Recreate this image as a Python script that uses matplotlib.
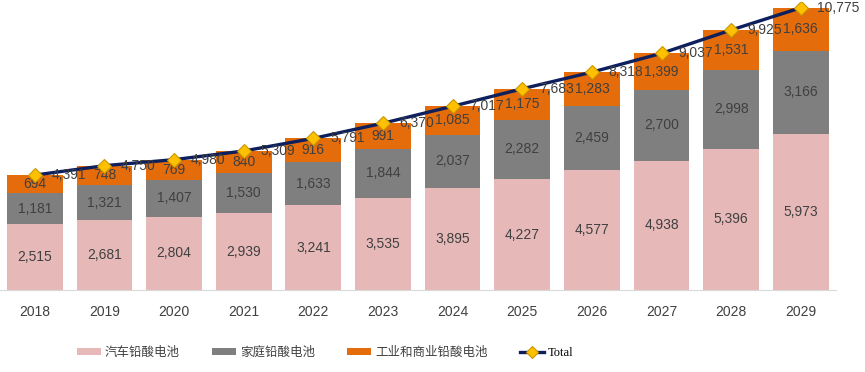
import matplotlib
matplotlib.use("Agg")
import matplotlib.pyplot as plt
import numpy as np

years = ["2018", "2019", "2020", "2021", "2022", "2023", "2024", "2025", "2026", "2027", "2028", "2029"]
auto = [2515, 2681, 2804, 2939, 3241, 3535, 3895, 4227, 4577, 4938, 5396, 5973]
home = [1181, 1321, 1407, 1530, 1633, 1844, 2037, 2282, 2459, 2700, 2998, 3166]
indus = [694, 748, 769, 840, 916, 991, 1085, 1175, 1283, 1399, 1531, 1636]
total = [4391, 4750, 4980, 5309, 5791, 6370, 7017, 7683, 8318, 9037, 9925, 10775]
names = ["汽车铅酸电池", "家庭铅酸电池", "工业和商业铅酸电池", "Total"]

plt.rcParams['font.family'] = ['Liberation Sans', 'Noto Sans CJK SC', 'DejaVu Sans']

fig = plt.figure(figsize=(8.65, 3.72), dpi=100)
ax = fig.add_axes([0.0, 0.22, 0.966, 0.775])

x = np.arange(len(years))
w = 0.8
c_auto, c_home, c_ind = "#E6B9B8", "#7F7F7F", "#E46C0A"
lab_c = "#404040"

b1 = ax.bar(x, auto, w, color=c_auto, label=names[0])
b2 = ax.bar(x, home, w, bottom=auto, color=c_home, label=names[1])
bot3 = np.array(auto) + np.array(home)
b3 = ax.bar(x, indus, w, bottom=bot3, color=c_ind, label=names[2])
ln, = ax.plot(x, total, color="#0D1F5C", lw=2.4, marker="D", ms=7.5,
              mfc="#FFC000", mec="#C89600", mew=0.8, label=names[3], zorder=5)

for i in range(len(years)):
    ax.text(x[i], auto[i] / 2, f"{auto[i]:,}", ha="center", va="center", fontsize=10, color=lab_c)
    ax.text(x[i], auto[i] + home[i] / 2, f"{home[i]:,}", ha="center", va="center", fontsize=10, color=lab_c)
    ax.text(x[i], bot3[i] + indus[i] / 2, f"{indus[i]:,}", ha="center", va="center", fontsize=10, color=lab_c)
    ax.annotate(f"{total[i]:,}", (x[i], total[i]), xytext=(12, 0), textcoords="offset points",
                ha="left", va="center", fontsize=10, color=lab_c, zorder=6)

ax.set_xlim(-0.5, len(years) - 0.5)
ax.set_ylim(0, 11000)
ax.set_xticks(x)
ax.set_xticklabels(years, fontsize=10, color=lab_c)
ax.tick_params(axis="x", length=0, pad=11)
ax.set_yticks([])
for s in ["top", "right", "left"]:
    ax.spines[s].set_visible(False)
ax.spines["bottom"].set_color("#D9D9D9")

leg = fig.legend(handles=[b1, b2, b3, ln], labels=names, loc="center", bbox_to_anchor=(0.376, 0.053),
                 ncol=4, frameon=False, handlelength=1.9, handleheight=0.55, handletextpad=0.3,
                 columnspacing=2.6, markerscale=0.75,
                 prop={"family": ["Noto Sans CJK SC"], "size": 9})
for t in leg.get_texts():
    t.set_color(lab_c)
leg.get_texts()[3].set_family(["Liberation Serif"])
leg.get_texts()[3].set_color("#000000")

fig.savefig("out.png", dpi=100)
